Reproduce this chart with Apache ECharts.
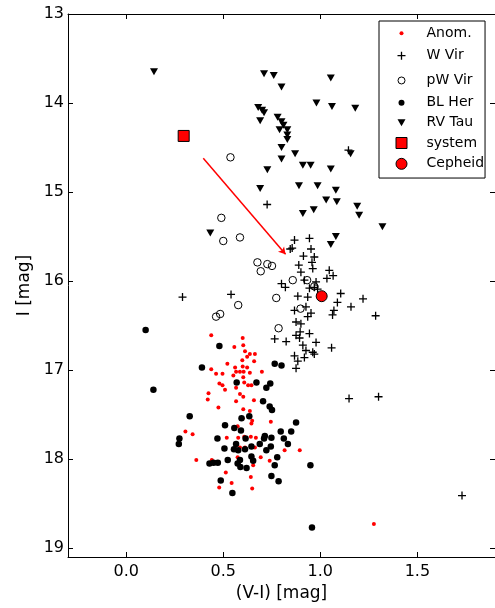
<!DOCTYPE html>
<html>
<head>
<meta charset="UTF-8">
<title>Colour-magnitude diagram</title>
<script src="https://cdn.jsdelivr.net/npm/echarts@6/dist/echarts.min.js"></script>
<style>
  html, body { margin: 0; padding: 0; background: #fff; }
  #chart { width: 495px; height: 608px; }
</style>
</head>
<body>
<div id="chart"></div>
<script>
// data: [V-I, I]
const anom = [
  [0.438,16.61],[0.600,16.64],[0.557,16.74],[0.603,16.72],[0.612,16.79],[0.637,16.82],[0.663,16.82],[0.623,16.85],
  [0.659,16.90],[0.598,16.89],[0.521,16.93],[0.438,16.99],[0.561,16.97],[0.600,16.96],[0.623,16.97],[0.566,17.02],
  [0.586,17.02],[0.605,17.02],[0.637,17.03],[0.699,17.02],[0.463,17.04],[0.496,17.04],[0.552,17.06],[0.603,17.08],
  [0.480,17.15],[0.496,17.17],[0.608,17.14],[0.628,17.17],[0.645,17.17],[0.566,17.20],[0.509,17.22],[0.424,17.26],
  [0.586,17.27],[0.603,17.30],[0.420,17.33],[0.566,17.35],[0.658,17.34],[0.475,17.42],[0.603,17.44],[0.637,17.46],
  [0.600,17.54],[0.649,17.57],[0.645,17.60],[0.574,17.63],[0.745,17.58],[0.305,17.69],[0.342,17.72],[0.608,17.75],
  [0.642,17.75],[0.668,17.76],[0.577,17.76],[0.518,17.76],[0.663,17.87],[0.612,17.87],[0.586,17.87],[0.693,17.98],
  [0.816,17.90],[0.894,17.90],[0.361,18.01],[0.441,18.01],[0.739,18.02],[0.649,18.02],[0.654,18.07],[0.574,17.98],
  [0.513,18.15],[0.642,18.20],[0.543,18.27],[0.479,18.32],[0.649,18.33],[1.276,18.73]
];
const wVir = [
  [0.290,16.18],[0.540,16.15],[0.726,15.14],[1.145,14.53],[1.730,18.41],[1.148,17.32],[1.300,17.30],[1.285,16.39],
  [1.220,16.20],[1.158,16.29],[1.058,16.75],[0.867,15.54],[0.944,15.52],[0.845,15.64],[0.855,15.63],[0.952,15.64],
  [0.969,15.73],[0.913,15.72],[0.957,15.79],[0.889,15.82],[0.961,15.86],[0.900,15.90],[0.800,16.03],[0.820,16.07],
  [0.918,15.99],[0.944,16.08],[1.046,15.88],[1.066,15.94],[1.034,15.97],[0.978,16.01],[0.969,16.07],[0.986,16.09],
  [1.105,16.14],[1.088,16.24],[1.070,16.33],[1.063,16.38],[0.884,16.17],[0.935,16.18],[0.867,16.33],[0.926,16.29],
  [0.952,16.36],[0.935,16.40],[0.875,16.46],[0.900,16.48],[0.896,16.57],[0.875,16.61],[0.765,16.65],[0.824,16.68],
  [0.893,16.64],[0.944,16.59],[0.978,16.69],[0.910,16.72],[0.926,16.78],[0.961,16.80],[0.867,16.84],[0.884,16.90],
  [0.918,16.86],[0.875,16.98],[0.969,16.82]
];
const pwVir = [
  [0.537,14.61],[0.490,15.29],[0.500,15.55],[0.586,15.51],[0.676,15.79],[0.693,15.89],[0.727,15.81],[0.751,15.83],
  [0.858,15.99],[0.932,15.99],[0.773,16.19],[0.577,16.27],[0.484,16.37],[0.463,16.40],[0.898,16.31],[0.785,16.53],
  [0.969,16.06]
];
const blHer = [
  [0.100,16.55],[0.140,17.22],[0.390,16.97],[0.327,17.52],[0.274,17.77],[0.271,17.83],[0.480,16.73],[0.765,16.93],
  [0.800,16.95],[0.569,17.14],[0.671,17.14],[0.742,17.15],[0.722,17.20],[0.705,17.35],[0.739,17.41],[0.751,17.45],
  [0.594,17.54],[0.634,17.52],[0.875,17.59],[0.509,17.62],[0.557,17.65],[0.591,17.68],[0.850,17.69],[0.796,17.69],
  [0.470,17.77],[0.615,17.77],[0.714,17.74],[0.710,17.77],[0.812,17.77],[0.748,17.76],[0.833,17.83],[0.722,17.90],
  [0.745,17.86],[0.688,17.83],[0.645,17.86],[0.566,17.83],[0.506,17.88],[0.555,17.89],[0.577,17.90],[0.612,17.89],
  [0.645,17.97],[0.654,18.02],[0.586,18.01],[0.574,18.05],[0.588,18.09],[0.620,18.10],[0.523,18.01],[0.429,18.05],
  [0.450,18.04],[0.472,18.04],[0.765,18.07],[0.778,17.98],[0.949,18.07],[0.748,18.19],[0.785,18.25],[0.487,18.24],
  [0.547,18.38],[0.957,18.77]
];
const rvTau = [
  [0.143,13.65],[0.710,13.67],[0.760,13.69],[0.800,13.82],[1.054,13.72],[0.680,14.05],[0.700,14.08],[0.710,14.11],
  [0.690,14.20],[0.780,14.16],[0.800,14.21],[0.810,14.25],[0.830,14.30],[0.790,14.30],[0.830,14.36],[0.830,14.41],
  [0.980,14.00],[1.060,14.04],[1.180,14.06],[0.800,14.50],[0.870,14.57],[0.800,14.63],[0.910,14.70],[0.950,14.70],
  [1.054,14.74],[1.156,14.57],[0.727,14.75],[0.690,14.96],[0.890,14.93],[0.986,14.93],[1.080,14.98],[1.030,15.09],
  [1.085,15.11],[0.910,15.24],[0.966,15.20],[1.190,15.16],[1.200,15.26],[0.433,15.46],[1.320,15.39],[1.080,15.50],
  [1.054,15.59]
];
const system = [[0.296,14.37]];
const cepheid = [[1.007,16.17]];
const arrowFrom = [0.397,14.62];
const arrowTo = [0.821,15.70];

const xTicks = [0.0, 0.5, 1.0, 1.5];
const yTicks = [13, 14, 15, 16, 17, 18, 19];
const names = ['Anom.', 'W Vir', 'pW Vir', 'BL Her', 'RV Tau', 'system', 'Cepheid'];

const FONT = 'DejaVu Sans';
const plusPath = 'path://M0,5L10,5M5,0L5,10';
const triPath = 'path://M0,0L8,0L4,7Z';

// legend icons: 36x18 box, marker centred at (16,9)
const box = 'M0,0M36,18';
const legendIcons = [
  'path://' + box + 'M14,9A2,2 0 1 1 18,9A2,2 0 1 1 14,9Z',
  'path://' + box + 'M12,9L20,9M16,5L16,13',
  'path://' + box + 'M12.5,9A3.5,3.5 0 1 1 19.5,9A3.5,3.5 0 1 1 12.5,9Z',
  'path://' + box + 'M13,9A3,3 0 1 1 19,9A3,3 0 1 1 13,9Z',
  'path://' + box + 'M12,5.5L20,5.5L16,12.5Z',
  'path://' + box + 'M10.5,3.5L21.5,3.5L21.5,14.5L10.5,14.5Z',
  'path://' + box + 'M10.5,9A5.5,5.5 0 1 1 21.5,9A5.5,5.5 0 1 1 10.5,9Z'
];
const legendStyles = [
  { color: 'red', borderWidth: 0 },
  { color: 'none', borderColor: '#000', borderWidth: 1.3 },
  { color: 'none', borderColor: '#000', borderWidth: 1 },
  { color: '#000', borderWidth: 0 },
  { color: '#000', borderWidth: 0 },
  { color: 'red', borderColor: '#000', borderWidth: 1 },
  { color: 'red', borderColor: '#000', borderWidth: 1 }
];

const chart = echarts.init(document.getElementById('chart'), null, { renderer: 'canvas' });

const xBase = {
  type: 'value', min: -0.3, max: 1.9,
  splitLine: { show: false },
  axisLine: { onZero: false, lineStyle: { color: '#000', width: 1 } },
  axisTick: { inside: true, length: 5, customValues: xTicks, lineStyle: { color: '#000' } }
};
const yBase = {
  type: 'value', min: 13, max: 19.1, interval: 1, inverse: true,
  splitLine: { show: false },
  axisLine: { onZero: false, lineStyle: { color: '#000', width: 1 } },
  axisTick: { inside: true, length: 5, customValues: yTicks, lineStyle: { color: '#000' } }
};

chart.setOption({
  animation: false,
  backgroundColor: '#fff',
  textStyle: { fontFamily: FONT },
  grid: { left: 68, top: 14, width: 430, bottom: 51, containLabel: false },
  xAxis: [
    Object.assign({}, xBase, {
      position: 'bottom',
      name: '(V-I) [mag]', nameLocation: 'middle', nameGap: 22,
      nameTextStyle: { fontSize: 17, color: '#000', fontFamily: FONT },
      axisLabel: { customValues: xTicks, margin: 7, fontSize: 16, color: '#000', fontFamily: FONT,
        formatter: v => v.toFixed(1) }
    }),
    Object.assign({}, xBase, { position: 'top', axisLabel: { show: false } })
  ],
  yAxis: [
    Object.assign({}, yBase, {
      position: 'left',
      name: 'I [mag]', nameLocation: 'middle', nameGap: 34,
      nameTextStyle: { fontSize: 17, color: '#000', fontFamily: FONT },
      axisLabel: { margin: 4, fontSize: 16, color: '#000', fontFamily: FONT, customValues: yTicks }
    }),
    Object.assign({}, yBase, { position: 'right', axisLabel: { show: false } })
  ],
  legend: {
    orient: 'vertical', left: 379, top: 21,
    padding: [3.3, 1, 4.7, 4],
    itemWidth: 36, itemHeight: 18, itemGap: 1.84,
    borderColor: '#000', borderWidth: 1, backgroundColor: '#fff',
    selectedMode: false,
    textStyle: { fontSize: 14, lineHeight: 16, color: '#000', fontFamily: FONT, padding: 0 },
    data: names.map((n, i) => ({ name: n, icon: legendIcons[i], itemStyle: legendStyles[i] }))
  },
  series: [
    { name: 'Anom.', type: 'scatter', data: anom, symbol: 'circle', symbolSize: 4,
      itemStyle: { color: 'red', opacity: 1 } },
    { name: 'W Vir', type: 'scatter', data: wVir, symbol: plusPath, symbolSize: 8,
      itemStyle: { color: 'none', borderColor: '#000', borderWidth: 1.3, opacity: 1 } },
    { name: 'pW Vir', type: 'scatter', data: pwVir, symbol: 'circle', symbolSize: 7.5,
      itemStyle: { color: 'rgba(0,0,0,0)', borderColor: '#000', borderWidth: 1, opacity: 1 } },
    { name: 'BL Her', type: 'scatter', data: blHer, symbol: 'circle', symbolSize: 6.5,
      itemStyle: { color: '#000', opacity: 1 } },
    { name: 'RV Tau', type: 'scatter', data: rvTau, symbol: triPath, symbolSize: [8, 7],
      itemStyle: { color: '#000', opacity: 1 } },
    { name: 'system', type: 'scatter', data: system, symbol: 'rect', symbolSize: 11,
      itemStyle: { color: 'red', borderColor: '#000', borderWidth: 1, opacity: 1 },
      markLine: {
        silent: true, symbol: ['none', 'arrow'], symbolSize: [6, 7],
        label: { show: false },
        lineStyle: { color: 'red', width: 1.5, type: 'solid' },
        data: [[{ coord: arrowFrom }, { coord: arrowTo }]]
      } },
    { name: 'Cepheid', type: 'scatter', data: cepheid, symbol: 'circle', symbolSize: 11,
      itemStyle: { color: 'red', borderColor: '#000', borderWidth: 1, opacity: 1 } }
  ]
});
</script>
</body>
</html>
